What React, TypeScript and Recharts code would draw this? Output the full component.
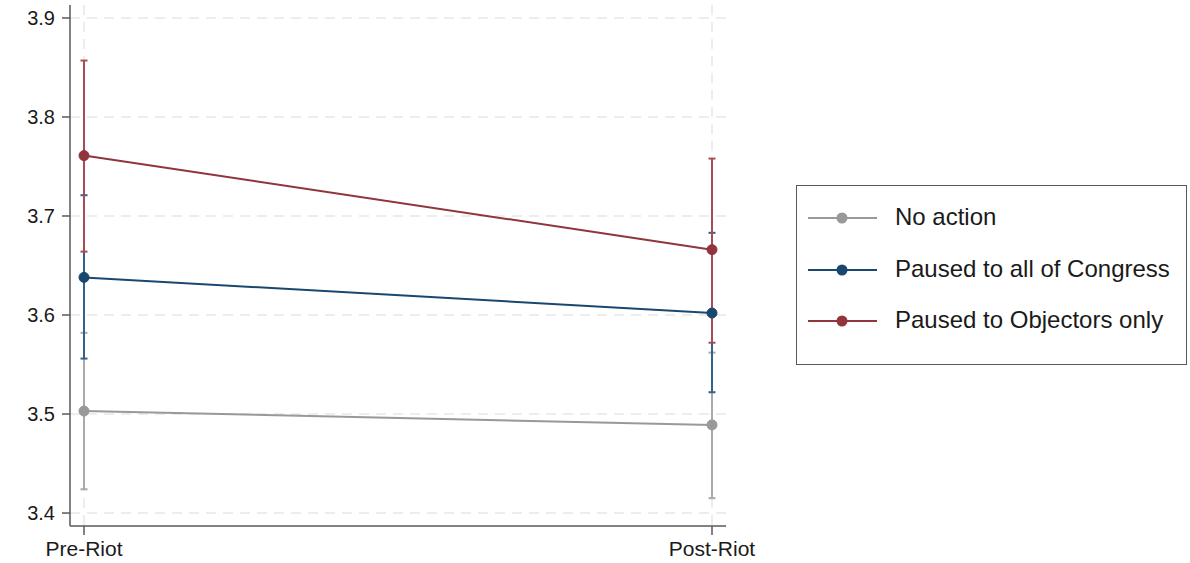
import React from 'react';
import { LineChart, Line, XAxis, YAxis, CartesianGrid, ErrorBar } from 'recharts';

const categories = ['Pre-Riot', 'Post-Riot'];
const yTicks = [3.4, 3.5, 3.6, 3.7, 3.8, 3.9];

const noActionMean = [3.503, 3.489];
const noActionLow = [3.424, 3.415];
const noActionHigh = [3.582, 3.562];

const congressMean = [3.638, 3.602];
const congressLow = [3.556, 3.522];
const congressHigh = [3.721, 3.683];

const objectorsMean = [3.761, 3.666];
const objectorsLow = [3.664, 3.572];
const objectorsHigh = [3.857, 3.758];

const series = [
  { key: 'noAction', name: 'No action', color: '#999999', errColor: '#aaaaaa', mean: noActionMean, low: noActionLow, high: noActionHigh },
  { key: 'congress', name: 'Paused to all of Congress', color: '#1a476f', errColor: '#34608a', mean: congressMean, low: congressLow, high: congressHigh },
  { key: 'objectors', name: 'Paused to Objectors only', color: '#90353b', errColor: '#a64d54', mean: objectorsMean, low: objectorsLow, high: objectorsHigh },
];

const data = categories.map((c, i) => {
  const row: any = { cat: c };
  series.forEach((s) => {
    row[s.key] = s.mean[i];
    row[s.key + 'Err'] = [s.mean[i] - s.low[i], s.high[i] - s.mean[i]];
  });
  return row;
});

const FONT = '"Liberation Sans", Arial, sans-serif';

const toFn = (sc: any): ((v: any) => number) | null => {
  if (!sc) return null;
  if (typeof sc === 'function') return sc;
  if (typeof sc.map === 'function') return (v: any) => sc.map(v);
  if (typeof sc.scale === 'function') return sc.scale;
  return null;
};

const vGen = (props: any) => {
  try {
    const f = toFn(props?.xAxis?.scale);
    if (!f) return [];
    return categories.map((c) => f(c)).filter((v) => typeof v === 'number' && isFinite(v));
  } catch (e) {
    return [];
  }
};
const hGen = (props: any) => {
  try {
    const f = toFn(props?.yAxis?.scale);
    if (!f) return [];
    return yTicks.map((t) => f(t)).filter((v) => typeof v === 'number' && isFinite(v));
  } catch (e) {
    return [];
  }
};

export default function App() {
  return (
    <div style={{ position: 'absolute', left: 0, top: 0, width: 1190, height: 563, background: '#fff', fontFamily: FONT }}>
      <LineChart width={1190} height={563} data={data} margin={{ top: 5, right: 464, bottom: 0, left: 0 }}>
        <CartesianGrid
          stroke="#e8e8e8"
          strokeDasharray="10 7"
          strokeWidth={1.5}
          syncWithTicks
          verticalCoordinatesGenerator={vGen}
          horizontalCoordinatesGenerator={hGen}
        />
        <XAxis
          dataKey="cat"
          type="category"
          padding={{ left: 14, right: 14 }}
          height={37}
          tickSize={9}
          tickMargin={6}
          axisLine={{ stroke: '#595959', strokeWidth: 1.5 }}
          tickLine={{ stroke: '#595959', strokeWidth: 1.5 }}
          tick={{ fill: '#1a1a1a', fontSize: 21, fontFamily: FONT }}
        />
        <YAxis
          type="number"
          domain={[3.3869, 3.9131]}
          ticks={yTicks}
          allowDataOverflow
          width={70}
          tickSize={8}
          tickMargin={7}
          axisLine={{ stroke: '#595959', strokeWidth: 1.5 }}
          tickLine={{ stroke: '#595959', strokeWidth: 1.5 }}
          tick={{ fill: '#1a1a1a', fontSize: 20, fontFamily: FONT }}
          tickFormatter={(v: number) => v.toFixed(1)}
        />
        {series.map((s) => (
          <Line
            key={s.key}
            dataKey={s.key}
            name={s.name}
            stroke={s.color}
            strokeWidth={2}
            dot={{ r: 5, fill: s.color, stroke: s.color, strokeWidth: 1 }}
            activeDot={false}
            isAnimationActive={false}
          >
            <ErrorBar dataKey={s.key + 'Err'} direction="y" width={3.5} strokeWidth={2} stroke={s.errColor} />
          </Line>
        ))}
      </LineChart>
      <div
        style={{
          position: 'absolute',
          left: 796,
          top: 185,
          width: 391,
          height: 180,
          border: '1.5px solid #595959',
          boxSizing: 'border-box',
          background: '#fff',
        }}
      >
        {series.map((s, i) => (
          <div key={s.key} style={{ position: 'absolute', left: 0, top: 32 + i * 51.5 - 15, height: 30, display: 'flex', alignItems: 'center' }}>
            <svg width={90} height={30} style={{ display: 'block' }}>
              <line x1={11} y1={15} x2={80} y2={15} stroke={s.color} strokeWidth={2} />
              <circle cx={45} cy={15} r={5.5} fill={s.color} />
            </svg>
            <span style={{ position: 'absolute', left: 98, top: 0, fontSize: 24, fontFamily: FONT, color: '#1a1a1a', whiteSpace: 'nowrap', lineHeight: '28px' }}>{s.name}</span>
          </div>
        ))}
      </div>
    </div>
  );
}
